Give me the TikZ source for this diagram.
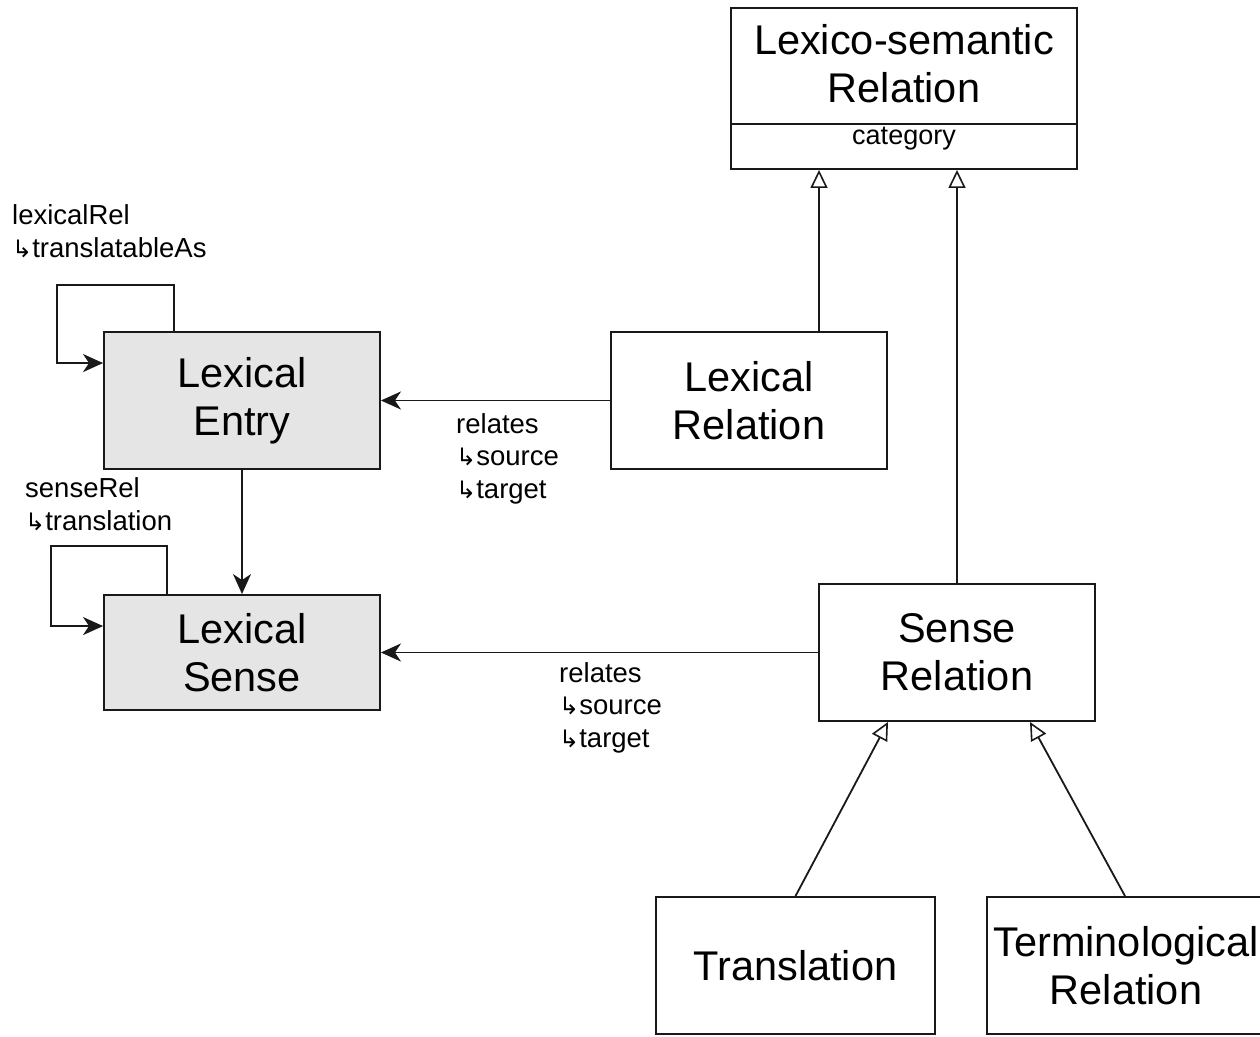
\documentclass[tikz,border=0pt]{standalone}
\usepackage{fontspec}
\setmainfont{Liberation Sans}
\newfontfamily\symfont{DejaVu Sans}
\usetikzlibrary{arrows.meta}
\newcommand{\hook}{{\symfont\fontsize{24}{24}\selectfont ↳}}
\begin{document}
\begin{tikzpicture}[x=1pt,y=-1pt,
  box/.style={draw=black!90,line width=1.9pt,minimum width=276pt,minimum height=137pt,
    align=center,inner sep=0pt,font=\fontsize{41.5}{48}\selectfont},
  graybox/.style={box,fill=black!10},
  lbl/.style={align=left,inner sep=0pt,anchor=west,font=\fontsize{27.5}{32.5}\selectfont},
  arr/.style={line width=1.8pt,draw=black!90,-{Stealth[length=20pt,width=18pt,inset=6pt]}},
  inh/.style={line width=1.8pt,draw=black!90,-{Triangle[open,fill=white,length=18pt,width=17pt,line width=1.6pt]}}]
\clip (0,0) rectangle (1260,1036);
\fill[white] (0,0) rectangle (1260,1036);

% class boxes
\node[box,minimum width=346pt,minimum height=116pt] (lsrtop) at (904,66) {};
\node[box,minimum width=346pt,minimum height=45pt] (lsrcat) at (904,146.5) {};
\node[align=center,inner sep=0pt,font=\fontsize{41.5}{48}\selectfont] (lsrname) at (904,64) {Lexico-semantic\\Relation};
\node[inner sep=0pt,font=\fontsize{27}{32}\selectfont] (lsrattr) at (904,139) {category};
\node[graybox] (le) at (242,400.5) {Lexical\\Entry};
\node[graybox,minimum height=115pt] (ls) at (242,652.5) {Lexical\\Sense};
\node[box] (lr) at (749,400.5) {Lexical\\Relation};
\node[box] (sr) at (957,652.5) {Sense\\Relation};
\node[box,minimum width=279pt] (tr) at (795.5,965.5) {Translation};
\node[box,minimum width=278pt] (tm) at (1126,965.5) {Terminological\\Relation};

% property labels
\node[lbl] (l1) at (12,231) {lexicalRel\\\hook translatableAs};
\node[lbl] (l2) at (25,504) {senseRel\\\hook translation};
\node[lbl] (l3) at (456,458.5) {relates\\\hook source\\\hook target};
\node[lbl] (l4) at (559,707.5) {relates\\\hook source\\\hook target};

% self relations
\draw[arr] ([xshift=71pt]le.north west) |- ([xshift=-46pt,yshift=46pt]le.north west)
  |- ([yshift=-32pt]le.north west);
\draw[arr] ([xshift=64pt]ls.north west) |- ([xshift=-52pt,yshift=48pt]ls.north west)
  |- ([yshift=-32pt]ls.north west);

% associations
\draw[arr] (le.south) -- (ls.north);
\draw[arr] (lr.west) -- (le.east);
\draw[arr] (sr.west) -- (sr.west -| ls.east);

% generalisations
\draw[inh] ([xshift=70pt]lr.north) -- ([xshift=70pt]lr.north |- lsrcat.south);
\draw[inh] (sr.north) -- (sr.north |- lsrcat.south);
\draw[inh] (tr.north) -- ([xshift=-69pt]sr.south);
\draw[inh] ([xshift=-1pt]tm.north) -- ([xshift=73pt]sr.south);
\end{tikzpicture}
\end{document}
